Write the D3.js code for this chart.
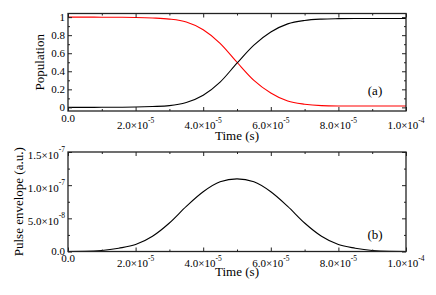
<!DOCTYPE html>
<html>
<head>
<meta charset="utf-8">
<script src="https://cdn.jsdelivr.net/npm/d3@7"></script>
<style>
  body { margin: 0; background: #fff; }
</style>
</head>
<body>
<div id="chart"></div>
<script>

// time grid (s)
var times = [0, 5e-6, 1e-5, 1.5e-5, 2e-5, 2.5e-5, 3e-5, 3.5e-5, 4e-5, 4.5e-5, 5e-5,
             5.5e-5, 6e-5, 6.5e-5, 7e-5, 7.5e-5, 8e-5, 8.5e-5, 9e-5, 9.5e-5, 1e-4];

// panel (a) populations
var popUpper = [1.0, 1.0, 0.999, 0.998, 0.996, 0.99, 0.978, 0.945, 0.86, 0.71, 0.5,
                0.3, 0.16, 0.07, 0.035, 0.02, 0.016, 0.015, 0.015, 0.015, 0.015];
var popLower = [0.0, 0.0, 0.001, 0.002, 0.004, 0.01, 0.02, 0.055, 0.135, 0.28, 0.49,
                0.69, 0.835, 0.925, 0.963, 0.978, 0.983, 0.985, 0.985, 0.985, 0.985];

// panel (b) pulse envelope (a.u.)
var pulse = [0, 0.02e-8, 0.15e-8, 0.5e-8, 1.05e-8, 2.3e-8, 4.3e-8, 6.8e-8, 9.0e-8, 10.5e-8, 10.95e-8,
             10.5e-8, 9.0e-8, 6.8e-8, 4.3e-8, 2.3e-8, 1.05e-8, 0.5e-8, 0.15e-8, 0.02e-8, 0];

// ticks
var timeTicks = [0, 2e-5, 4e-5, 6e-5, 8e-5, 1e-4];
var timeMinor = [1e-5, 3e-5, 5e-5, 7e-5, 9e-5];
var timeTickLabels = [["0.0", ""], ["2.0×10", "-5"], ["4.0×10", "-5"], ["6.0×10", "-5"], ["8.0×10", "-5"], ["1.0×10", "-4"]];

var popTicks = [0, 0.2, 0.4, 0.6, 0.8, 1];
var popMinor = [0.1, 0.3, 0.5, 0.7, 0.9];
var popTickLabels = [["0", ""], ["0.2", ""], ["0.4", ""], ["0.6", ""], ["0.8", ""], ["1", ""]];

var pulseTicks = [0, 5e-8, 1e-7, 1.5e-7];
var pulseMinor = [2.5e-8, 7.5e-8, 1.25e-7];
var pulseTickLabels = [["0.0", ""], ["5.0×10", "-8"], ["1.0×10", "-7"], ["1.5×10", "-7"]];

var W = 436, H = 295;
var FONT = 'Liberation Serif';

var svg = d3.select('#chart').append('svg')
    .attr('width', W)
    .attr('height', H)
    .attr('font-family', FONT);

var left = 68, right = 406;

var x = d3.scaleLinear().domain([0, 1e-4]).range([left, right]);

function drawPanel(opts) {
    var y = d3.scaleLinear().domain(opts.yDomain).range([opts.bottom, opts.top]);
    var g = svg.append('g');

    // curves
    var line = d3.line()
        .x(function (d, i) { return x(times[i]); })
        .y(function (d) { return y(d); })
        .curve(d3.curveMonotoneX);

    opts.series.forEach(function (s) {
        g.append('path')
            .datum(s.values)
            .attr('d', line)
            .attr('fill', 'none')
            .attr('stroke', s.color)
            .attr('stroke-width', 1.1);
    });

    // inward ticks on all four sides
    function ticks(axisFn, scale, vals, size, tr) {
        g.append('g')
            .attr('transform', tr)
            .call(axisFn(scale).tickValues(vals).tickSize(size).tickFormat(''))
            .call(function (s) {
                s.select('.domain').remove();
                s.selectAll('line').attr('stroke', '#222').attr('stroke-width', 1);
            });
    }
    ticks(d3.axisBottom, x, timeTicks, -4, 'translate(0,' + opts.bottom + ')');
    ticks(d3.axisBottom, x, timeMinor, -2, 'translate(0,' + opts.bottom + ')');
    ticks(d3.axisTop, x, timeTicks, -4, 'translate(0,' + opts.top + ')');
    ticks(d3.axisTop, x, timeMinor, -2, 'translate(0,' + opts.top + ')');
    ticks(d3.axisLeft, y, opts.yTicks, -4, 'translate(' + left + ',0)');
    ticks(d3.axisLeft, y, opts.yMinor, -2, 'translate(' + left + ',0)');
    ticks(d3.axisRight, y, opts.yTicks, -4, 'translate(' + right + ',0)');
    ticks(d3.axisRight, y, opts.yMinor, -2, 'translate(' + right + ',0)');

    // frame
    g.append('rect')
        .attr('x', left)
        .attr('y', opts.top)
        .attr('width', right - left)
        .attr('height', opts.bottom - opts.top)
        .attr('fill', 'none')
        .attr('stroke', '#222')
        .attr('stroke-width', 1.3);

    // x tick labels
    timeTicks.forEach(function (t, i) {
        var lab = timeTickLabels[i];
        var hasSup = lab[1] !== '';
        var txt = g.append('text')
            .attr('x', x(t))
            .attr('y', opts.bottom + (hasSup ? opts.xSupBase : opts.xPlainBase))
            .attr('text-anchor', 'middle')
            .attr('font-family', FONT)
            .style('font-size', '11px')
            .text(lab[0]);
        if (hasSup) {
            txt.append('tspan')
                .attr('dy', -6.5)
                .style('font-size', '7.5px')
                .text(lab[1]);
        }
    });

    // y tick labels
    opts.yTicks.forEach(function (v, i) {
        var lab = opts.yTickLabels[i];
        var hasSup = lab[1] !== '';
        var txt = g.append('text')
            .attr('x', 65)
            .attr('y', y(v) + (hasSup ? 6.5 : 3.8))
            .attr('text-anchor', 'end')
            .attr('font-family', FONT)
            .style('font-size', '11px')
            .text(lab[0]);
        if (hasSup) {
            txt.append('tspan')
                .attr('dy', -6.5)
                .style('font-size', '7.5px')
                .text(lab[1]);
        }
    });

    // axis titles
    g.append('text')
        .attr('x', (left + right) / 2)
        .attr('y', opts.bottom + opts.xTitleOffset)
        .attr('text-anchor', 'middle')
        .attr('font-family', FONT)
        .style('font-size', '13px')
        .text('Time (s)');

    g.append('text')
        .attr('transform', 'translate(' + opts.yTitleX + ',' + ((opts.top + opts.bottom) / 2) + ') rotate(-90)')
        .attr('text-anchor', 'middle')
        .attr('font-family', FONT)
        .style('font-size', '13px')
        .text(opts.yTitle);

    // panel tag
    g.append('text')
        .attr('x', 375)
        .attr('y', opts.tagY)
        .attr('text-anchor', 'middle')
        .attr('font-family', FONT)
        .style('font-size', '13px')
        .text(opts.tag);
}

drawPanel({
    top: 13.5, bottom: 111,
    yDomain: [-0.04, 1.04],
    yTicks: popTicks, yMinor: popMinor, yTickLabels: popTickLabels,
    series: [{ values: popUpper, color: '#ff0000' }, { values: popLower, color: '#000' }],
    xPlainBase: 11, xSupBase: 18,
    xTitleOffset: 29,
    yTitle: 'Population', yTitleX: 44,
    tag: '(a)', tagY: 95
});

drawPanel({
    top: 152, bottom: 251.5,
    yDomain: [0, 1.5e-7],
    yTicks: pulseTicks, yMinor: pulseMinor, yTickLabels: pulseTickLabels,
    series: [{ values: pulse, color: '#000' }],
    xPlainBase: 10.5, xSupBase: 15.5,
    xTitleOffset: 24.5,
    yTitle: 'Pulse envelope (a.u.)', yTitleX: 23,
    tag: '(b)', tagY: 238.5
});

</script>
</body>
</html>
